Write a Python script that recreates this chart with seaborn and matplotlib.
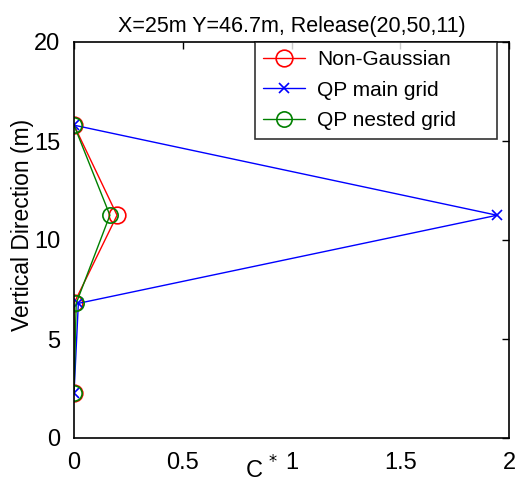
import matplotlib
matplotlib.use("Agg")
import matplotlib.pyplot as plt
import seaborn as sns
import pandas as pd

# data
heights = [2.25, 6.8, 11.25, 15.8]
non_gaussian = [0.0, 0.0, 0.198, 0.0]
qp_main = [0.0, 0.02, 1.945, 0.0]
qp_nested = [0.0, 0.01, 0.165, 0.0]
series_names = ["Non-Gaussian", "QP main grid", "QP nested grid"]
x_ticks = [0, 0.5, 1, 1.5, 2]
x_tick_labels = ["0", "0.5", "1", "1.5", "2"]
y_ticks = [0, 5, 10, 15, 20]

sns.set_theme(style="white")
plt.rcParams["font.family"] = ["Liberation Sans", "DejaVu Sans"]
plt.rcParams["text.color"] = "black"
plt.rcParams["axes.labelcolor"] = "black"

rows = []
for name, vals in zip(series_names, [non_gaussian, qp_main, qp_nested]):
    for h, v in zip(heights, vals):
        rows.append({"series": name, "C": v, "z": h})
df = pd.DataFrame(rows)

fig = plt.figure(figsize=(5.17, 4.87), dpi=100)
ax = fig.add_axes([74/517, 49/487, 435/517, 396/487])

colors = {"Non-Gaussian": "#ff0000", "QP main grid": "#0000ff", "QP nested grid": "#008000"}
markers = {"Non-Gaussian": "o", "QP main grid": "x", "QP nested grid": "o"}
msizes = {"Non-Gaussian": 12, "QP main grid": 7, "QP nested grid": 11}

for name in series_names:
    sub = df[df["series"] == name]
    sns.lineplot(data=sub, x="C", y="z", sort=False, ax=ax, color=colors[name],
                 marker=markers[name], markersize=msizes[name],
                 markerfacecolor="none", markeredgecolor=colors[name],
                 markeredgewidth=1.2, linewidth=1.0, label=name, estimator=None)

ax.set_xlim(0, 2)
ax.set_ylim(0, 20)
ax.set_xticks(x_ticks)
ax.set_xticklabels(x_tick_labels)
ax.set_yticks(y_ticks)
ax.tick_params(direction="in", length=5, width=1, top=True, right=True,
               labelsize=17, pad=10, colors="black")
for s in ax.spines.values():
    s.set_color("black")
    s.set_linewidth(1.2)

ax.set_title("X=25m Y=46.7m, Release(20,50,11)", fontsize=15.5, pad=7, color="black")
ax.set_ylabel("Vertical Direction (m)", fontsize=16.5, va="center", color="black")
ax.yaxis.set_label_coords(-0.118, 0.538)
ax.set_xlabel("")
fig.text(262/517, 1 - 470/487, "C $^{*}$", fontsize=17, ha="center", va="center",
         color="black")

leg = ax.legend(loc="upper right", fontsize=15, frameon=True, fancybox=False,
                edgecolor="black", borderaxespad=0.0, handlelength=2.0,
                handletextpad=0.6, borderpad=0.4, labelspacing=0.55,
                bbox_to_anchor=(0.416, 0.0, 0.556, 1.0), mode="expand")
leg.get_frame().set_linewidth(1.2)
for t in leg.get_texts():
    t.set_color("black")

fig.savefig("out.png", dpi=100)
